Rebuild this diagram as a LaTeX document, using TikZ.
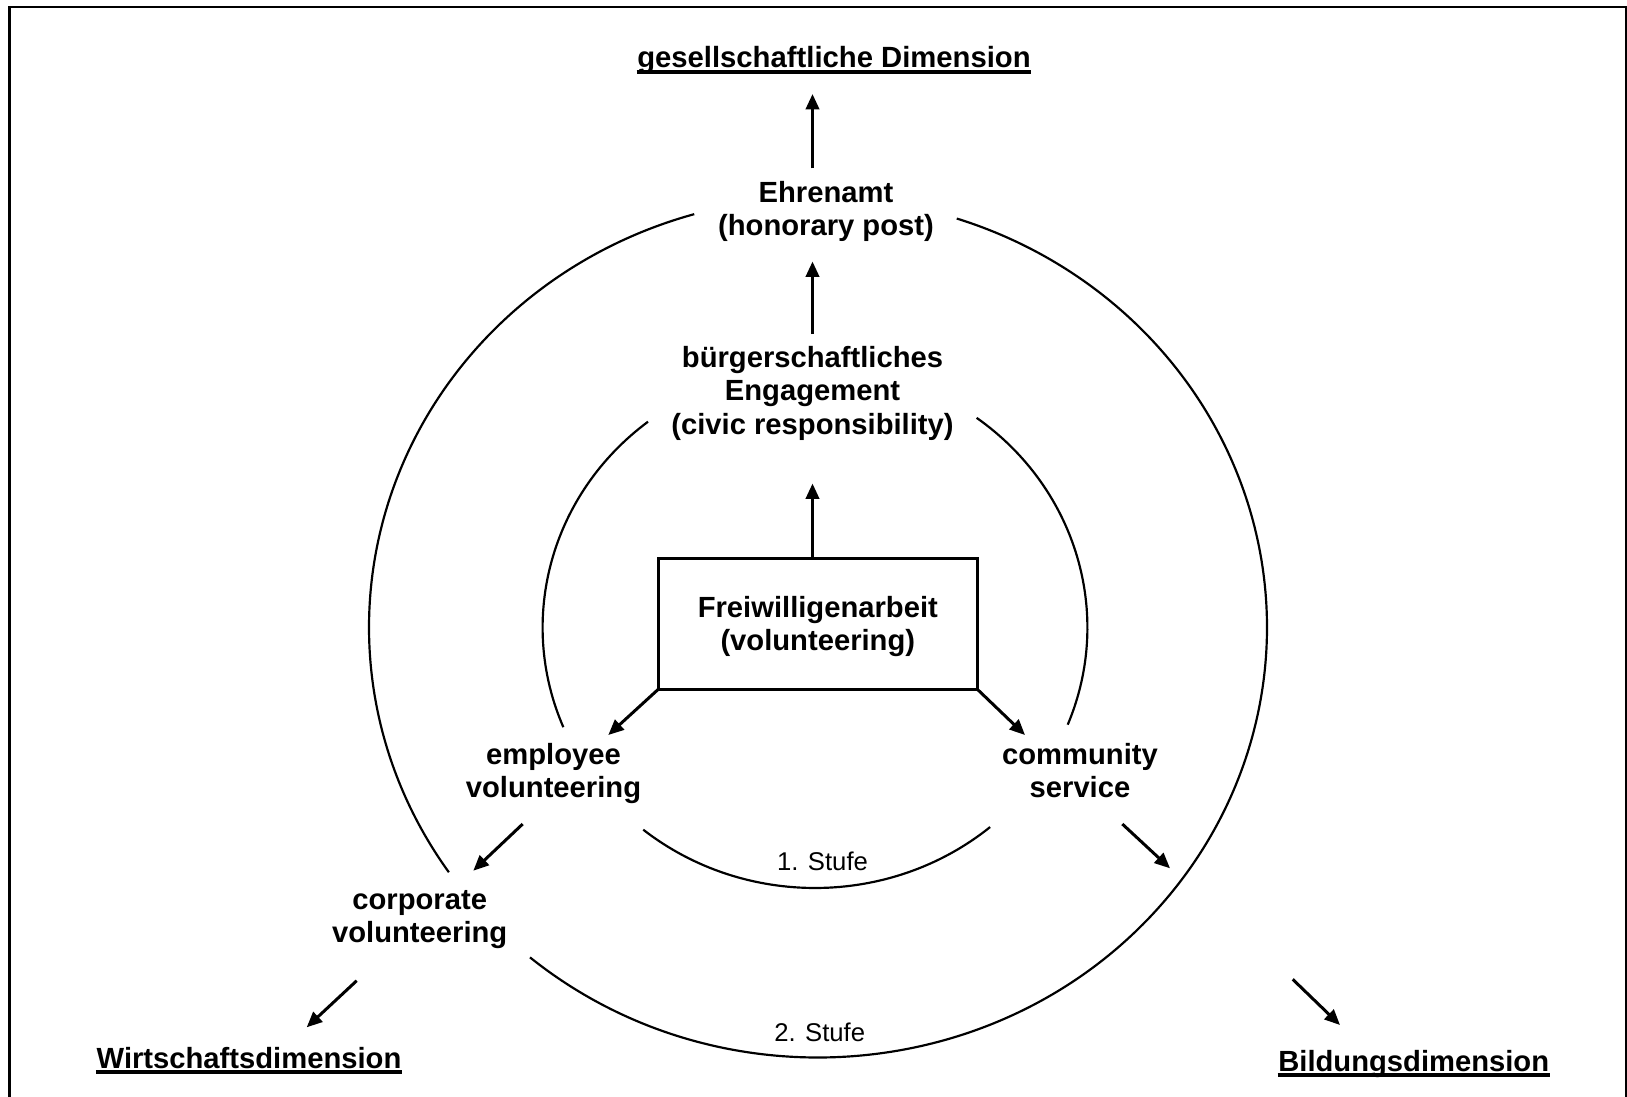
\documentclass[tikz,border=0pt]{standalone}
\usepackage{fontspec}
\setmainfont{Liberation Sans}
\usetikzlibrary{arrows.meta}
\begin{document}
\begin{tikzpicture}[x=0.01cm,y=0.01cm,
  lbl/.style={font=\bfseries\fontsize{8.3}{9.4}\selectfont, inner sep=0pt, align=center},
  titlelbl/.style={font=\bfseries\fontsize{8.32}{9.4}\selectfont, inner sep=0pt},
  stufelbl/.style={font=\fontsize{7.3}{8}\selectfont, inner sep=0pt},
  ring/.style={line width=0.62pt},
  flow/.style={line width=0.85pt, -{Triangle[length=4.4pt,width=3.8pt]}},
  ul/.style={line width=1pt},
  boxnode/.style={draw, line width=0.85pt, minimum width=3.19cm, minimum height=1.31cm,
    inner sep=0pt, outer sep=0pt, align=center, font=\bfseries\fontsize{8.3}{9.4}\selectfont}
]
\useasboundingbox (0,0) rectangle (1627,-1097);
\clip (0,0) rectangle (1627,-1097);
\draw[line width=0.8pt] (9.7,-7) rectangle (1626.5,-1120);

% labels
\node[titlelbl, anchor=base] (gd) at (834,-68) {gesellschaftliche Dimension};
\draw[ul] ([yshift=-1.1pt]gd.base west) -- ([yshift=-1.1pt]gd.base east);
\node[lbl] (ehren) at (826,-211.6) {Ehrenamt\\(honorary post)};
\node[lbl] (buerger) at (812.5,-393.4) {bürgerschaftliches\\Engagement\\(civic responsibility)};
\node[boxnode] (frei) at (817.8,-623.8) {\rule{0pt}{7.8pt}Freiwilligenarbeit\\(volunteering)};
\node[lbl] (emp) at (553.5,-773.2) {employee\\volunteering};
\node[lbl] (comm) at (1080,-770.8) {community\\service};
\node[lbl] (corp) at (419.7,-919.4) {corporate\\volunteering};
\node[lbl, anchor=base] (wirt) at (249,-1068) {Wirtschaftsdimension};
\draw[ul] ([yshift=-1.1pt]wirt.base west) -- ([yshift=-1.1pt]wirt.base east);
\node[lbl, anchor=base] (bild) at (1413.7,-1071) {Bildungsdimension};
\draw[ul] ([yshift=-1.1pt]bild.base west) -- ([yshift=-1.1pt]bild.base east);
\node[stufelbl, anchor=base] (st1) at (822.5,-870) {1. Stufe};
\node[stufelbl, anchor=base] (st2) at (819.7,-1041.5) {2. Stufe};

% rings
\draw[ring] (818,-627.5) ++(106:449 and 430) arc[start angle=106,end angle=214.7,x radius=449,y radius=430];
\draw[ring] (818,-627.5) ++(230.1:449 and 430) arc[start angle=230.1,end angle=432,x radius=449,y radius=430];
\draw[ring] (815,-627.5) ++(127.8:272.4 and 260.5) arc[start angle=127.8,end angle=202.5,x radius=272.4,y radius=260.5];
\draw[ring] (815,-627.5) ++(230.9:272.4 and 260.5) arc[start angle=230.9,end angle=310,x radius=272.4,y radius=260.5];
\draw[ring] (815,-627.5) ++(338.1:272.4 and 260.5) arc[start angle=338.1,end angle=413.6,x radius=272.4,y radius=260.5];

% arrow end points
\coordinate (a1s) at (812.5,-168.3);
\coordinate (a1e) at (812.5,-94);
\coordinate (a2s) at (812.5,-334);
\coordinate (a2e) at (812.5,-261.5);
\coordinate (a3e) at (812.5,-483.5);
\coordinate (a4e) at (608.3,-735);
\coordinate (a5e) at (1025,-735);
\coordinate (a6s) at (522.7,-824);
\coordinate (a6e) at (473.3,-870.7);
\coordinate (a7s) at (1122.3,-824);
\coordinate (a7e) at (1170,-868.3);
\coordinate (a8s) at (356.7,-980.7);
\coordinate (a8e) at (306.7,-1027.3);
\coordinate (a9s) at (1292.7,-979.3);
\coordinate (a9e) at (1340,-1025);

\draw[flow] (a1s) -- (a1e);
\draw[flow] (a2s) -- (a2e);
\draw[flow] (frei.north -| a3e) -- (a3e);
\draw[flow] (frei.south west) -- (a4e);
\draw[flow] (frei.south east) -- (a5e);
\draw[flow] (a6s) -- (a6e);
\draw[flow] (a7s) -- (a7e);
\draw[flow] (a8s) -- (a8e);
\draw[flow] (a9s) -- (a9e);
\end{tikzpicture}
\end{document}
